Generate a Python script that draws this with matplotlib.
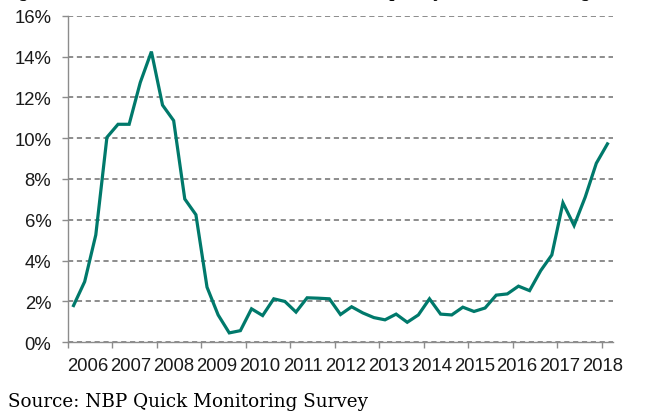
import matplotlib
matplotlib.use("Agg")
import matplotlib.pyplot as plt
import numpy as np
from matplotlib.ticker import FixedLocator, FuncFormatter

# quarterly share, 2006Q1 .. 2018Q1 (%)
values = [
    1.80, 2.97, 5.26, 10.04,
    10.68, 10.68, 12.73, 14.24,
    11.62, 10.86, 7.02, 6.25,
    2.70, 1.34, 0.46, 0.57,
    1.64, 1.31, 2.13, 2.00,
    1.48, 2.18, 2.16, 2.13,
    1.36, 1.74, 1.44, 1.21,
    1.10, 1.38, 0.98, 1.34,
    2.13, 1.38, 1.34, 1.72,
    1.51, 1.68, 2.31, 2.37,
    2.75, 2.53, 3.51, 4.28,
    6.83, 5.72, 7.11, 8.77,
    9.72,
]
years = [str(y) for y in range(2006, 2019)]
title = "Figure 6. Share of firms where the labour policy is a barrier to growth"
source = "Source: NBP Quick Monitoring Survey"

line_color = "#00796B"
grid_color = "#6E6E6E"
axis_color = "#8C8C8C"

fig = plt.figure(figsize=(6.45, 4.14), dpi=100)
ax = fig.add_axes([0.1054, 0.1708, 0.9504 - 0.1054, 0.9597 - 0.1708])

x = np.arange(len(values))
ax.plot(x, values, color=line_color, lw=2.3, solid_joinstyle="miter", zorder=3)

ax.set_xlim(-0.5, len(values) - 0.5)
ax.set_ylim(0, 16)

ax.set_yticks(np.arange(0, 17, 2))
ax.yaxis.set_major_formatter(FuncFormatter(lambda v, p: f"{v:.0f}%"))
ax.grid(axis="y", color=grid_color, ls=(0, (3.4, 2.4)), lw=1.1, zorder=1)

# year boundaries as ticks, year labels placed separately (Excel-style spread)
ax.xaxis.set_major_locator(FixedLocator(np.arange(-0.5, len(values) - 1, 4)))
ax.xaxis.set_major_formatter(FuncFormatter(lambda v, p: ""))
ax.xaxis.set_minor_locator(FixedLocator(np.linspace(1.3, 47.6, len(years))))
ax.set_xticklabels(years, minor=True)
ax.tick_params(axis="x", which="minor", length=0, pad=10.5)
ax.tick_params(axis="x", which="major", length=4, width=1, color=axis_color)
ax.tick_params(axis="y", length=4, width=1, color=axis_color, pad=8)

for lab in ax.get_xticklabels(minor=True) + ax.get_yticklabels():
    lab.set_fontfamily("Liberation Sans")
    lab.set_fontsize(13.3)
    lab.set_color("#1a1a1a")

for s in ["top", "right"]:
    ax.spines[s].set_visible(False)
for s in ["left", "bottom"]:
    ax.spines[s].set_color(axis_color)
    ax.spines[s].set_linewidth(1.0)

# title sits above the crop, only its descenders show (as in the reference)
fig.text(0.0, 1.008, title, family="DejaVu Serif", fontsize=13, va="baseline", ha="left")
fig.text(0.012, 0.018, source, family="DejaVu Serif", fontsize=13.2, va="baseline", ha="left")

fig.savefig("out.png", dpi=100)
